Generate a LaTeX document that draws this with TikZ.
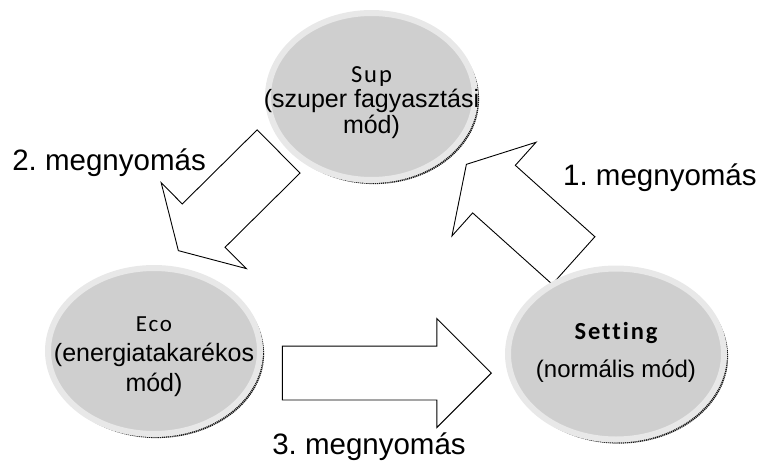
\documentclass[tikz,border=0pt]{standalone}
\usepackage{fontspec}
\setmainfont{Liberation Sans}
\newfontfamily\modefont[LetterSpace=8, Ligatures=NoCommon]{Carlito}
\usetikzlibrary{shapes.geometric,shapes.arrows}
\frenchspacing

\begin{document}
\begin{tikzpicture}[x=1pt, y=-1pt,
    mode/.style={ellipse, draw=gray!18, line width=6pt, fill=gray!38, inner sep=0pt,
      preaction={fill=none, draw=black!90, line width=2.6pt, dash pattern=on 1.2pt off 0.7pt,
        transform canvas={shift={(2.8pt,-2.8pt)}}}},
    modetext/.style={align=center, inner sep=0pt},
    press/.style={single arrow, draw, fill=white, line width=0.9pt, inner xsep=0pt, anchor=tip},
    presslabel/.style={font=\fontsize{29.5}{36}\selectfont, inner sep=0pt, anchor=base}]
  \useasboundingbox (0,0) rectangle (766,461);
  % block arrows
  \node[press, minimum height=144pt, inner ysep=31.5pt, single arrow head extend=31pt,
        single arrow tip angle=119, rotate=138.1] (press1) at (466,164) {};
  \node[press, minimum height=141pt, inner ysep=30pt, single arrow head extend=30pt,
        single arrow tip angle=119, rotate=-135.3] (press2) at (178,251) {};
  \node[press, minimum height=209pt, inner ysep=26.5pt, single arrow head extend=27.5pt,
        single arrow tip angle=90] (press3) at (492,373) {};
  % the three modes
  \node[mode, minimum width=207pt, minimum height=167pt] (sup) at (371.5,96.5) {};
  \node[mode, minimum width=212pt, minimum height=166pt] (eco) at (154,351) {};
  \node[mode, minimum width=216pt, minimum height=171pt] (setting) at (616,354) {};
  \node[modetext, font=\fontsize{25}{25.5}\selectfont] (suptext) at ([yshift=-6pt]sup.center)
    {{\modefont\fontsize{24.5}{25}\selectfont Sup}\\(szuper fagyasztási\\mód)};
  \node[modetext, font=\fontsize{25}{30}\selectfont] (ecotext) at ([yshift=-6pt]eco.center)
    {{\modefont\fontsize{23}{25}\selectfont Eco}\\(energiatakarékos\\mód)};
  \node[modetext, font=\fontsize{24}{38}\selectfont] (settingtext) at ([yshift=2pt]setting.center)
    {{\modefont\bfseries\fontsize{24.5}{25}\selectfont Setting}\\(normális mód)};
  % labels
  \node[presslabel, anchor=base west] (label1) at (563,185.5) {1. megnyomás};
  \node[presslabel, anchor=base east] (label2) at (206,170) {2. megnyomás};
  \node[presslabel] (label3) at (369,454) {3. megnyomás};
\end{tikzpicture}
\end{document}
